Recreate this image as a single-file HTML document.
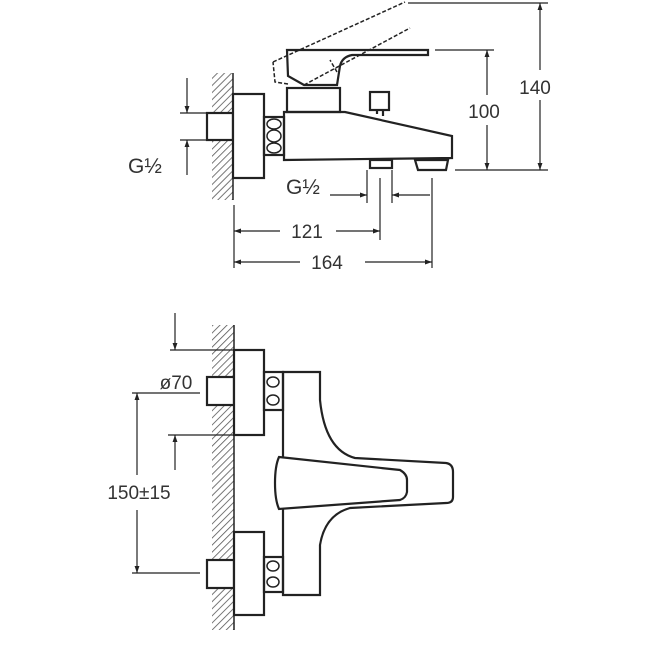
<!DOCTYPE html>
<html><head><style>
html,body{margin:0;padding:0;background:#fff;}
svg{display:block;}
text{font-family:"Liberation Sans",sans-serif;fill:#333;}
</style></head><body>
<svg width="650" height="650" viewBox="0 0 650 650" xmlns="http://www.w3.org/2000/svg">
<defs>
<pattern id="h" width="5" height="5" patternUnits="userSpaceOnUse" patternTransform="rotate(45)">
<line x1="0" y1="0" x2="0" y2="5" stroke="#555" stroke-width="1.6"/>
</pattern>
<marker id="a" viewBox="0 0 10 10" refX="10" refY="5" markerWidth="9" markerHeight="7" orient="auto-start-reverse" markerUnits="userSpaceOnUse">
<path d="M0,1.5 L10,5 L0,8.5 Z" fill="#222"/>
</marker>
</defs>
<g fill="none" stroke="#222" stroke-width="2.2">
<!-- TOP VIEW -->
<rect x="212" y="73" width="21" height="127" fill="url(#h)" stroke="none"/>
<line x1="233" y1="73" x2="233" y2="200" stroke-width="1.5"/>
<rect x="207" y="113" width="26" height="27" fill="#fff"/>
<rect x="233" y="94" width="31" height="84" fill="#fff"/>
<rect x="264" y="117" width="20" height="38"/>
<ellipse cx="274" cy="124" rx="7" ry="5" stroke-width="1.5"/>
<ellipse cx="274" cy="136" rx="7" ry="6" stroke-width="1.5"/>
<ellipse cx="274" cy="148" rx="7" ry="5" stroke-width="1.5"/>
<path d="M284,112 L345,112 L452,136 L452,158 L284,160 Z"/>
<rect x="287" y="88" width="53" height="24"/>
<rect x="370" y="92" width="19" height="18"/>
<line x1="377" y1="110" x2="377" y2="114"/><line x1="383" y1="110" x2="383" y2="116"/>
<rect x="370" y="160" width="22" height="8"/>
<path d="M415,160 L448,160 L446,170 L418,170 Z"/>
<path d="M287,50 L428,50 L428,55 L352,55 Q342,57 340,66 L337,85 L304,85 L288,76 Z"/>
<path d="M273,62 L405,2 M288,84 L275,82 L273,62 M304,85 L410,28 M337,72 L330,60" stroke-dasharray="4,2" stroke-width="1.5"/>
<!-- top dims -->
<g stroke-width="1.2">
<line x1="408" y1="3" x2="548" y2="3"/>
<line x1="435" y1="50" x2="494" y2="50"/>
<line x1="455" y1="170" x2="548" y2="170"/>
<line x1="540" y1="70" x2="540" y2="3" marker-end="url(#a)"/>
<line x1="540" y1="100" x2="540" y2="170" marker-end="url(#a)"/>
<line x1="487" y1="95" x2="487" y2="50" marker-end="url(#a)"/>
<line x1="487" y1="125" x2="487" y2="170" marker-end="url(#a)"/>
<line x1="180" y1="113" x2="207" y2="113"/>
<line x1="180" y1="140" x2="207" y2="140"/>
<line x1="187" y1="78" x2="187" y2="113" marker-end="url(#a)"/>
<line x1="187" y1="175" x2="187" y2="140" marker-end="url(#a)"/>
<line x1="234" y1="205" x2="234" y2="268"/>
<line x1="367" y1="170" x2="367" y2="203"/>
<line x1="380" y1="178" x2="380" y2="240"/>
<line x1="392" y1="170" x2="392" y2="203"/>
<line x1="432" y1="178" x2="432" y2="268"/>
<line x1="330" y1="195" x2="367" y2="195" marker-end="url(#a)"/>
<line x1="430" y1="195" x2="392" y2="195" marker-end="url(#a)"/>
<line x1="280" y1="231" x2="234" y2="231" marker-end="url(#a)"/>
<line x1="336" y1="231" x2="380" y2="231" marker-end="url(#a)"/>
<line x1="300" y1="262" x2="234" y2="262" marker-end="url(#a)"/>
<line x1="365" y1="262" x2="432" y2="262" marker-end="url(#a)"/>
</g>
<!-- BOTTOM VIEW -->
<rect x="212" y="325" width="22" height="305" fill="url(#h)" stroke="none"/>
<line x1="234" y1="325" x2="234" y2="630" stroke-width="1.5"/>
<rect x="207" y="377" width="27" height="28" fill="#fff"/>
<rect x="207" y="560" width="27" height="28" fill="#fff"/>
<rect x="234" y="350" width="30" height="85" fill="#fff"/>
<rect x="234" y="532" width="30" height="83" fill="#fff"/>
<rect x="264" y="372" width="19" height="38"/>
<ellipse cx="273" cy="382" rx="6" ry="5" stroke-width="1.5"/><ellipse cx="273" cy="400" rx="6" ry="5" stroke-width="1.5"/>
<rect x="264" y="557" width="19" height="35"/>
<ellipse cx="273" cy="566" rx="6" ry="5" stroke-width="1.5"/><ellipse cx="273" cy="582" rx="6" ry="5" stroke-width="1.5"/>
<path d="M283,372 L320,372 L320,400 Q325,450 355,458 L446,463 Q453,464 453,472 L453,497 Q453,503 446,503 L350,508 Q325,515 320,545 L320,595 L283,595 Z"/>
<path d="M279,457 L400,470 Q407,474 407,480 L407,492 Q406,498 400,500 L279,509 Q275,500 275,483 Q275,466 279,457 Z" fill="#fff"/>
<g stroke-width="1.2">
<line x1="170" y1="350" x2="234" y2="350"/>
<line x1="168" y1="435" x2="234" y2="435"/>
<line x1="175" y1="313" x2="175" y2="350" marker-end="url(#a)"/>
<line x1="175" y1="470" x2="175" y2="435" marker-end="url(#a)"/>
<line x1="132" y1="393" x2="200" y2="393"/>
<line x1="132" y1="573" x2="200" y2="573"/>
<line x1="137" y1="475" x2="137" y2="393" marker-end="url(#a)"/>
<line x1="137" y1="510" x2="137" y2="573" marker-end="url(#a)"/>
</g>
</g>
<rect x="88" y="480" width="102" height="24" fill="#fff"/>
<text x="535" y="94" font-size="19" text-anchor="middle">140</text>
<text x="484" y="118" font-size="19" text-anchor="middle">100</text>
<text x="128" y="173" font-size="21">G½</text>
<text x="286" y="194" font-size="21">G½</text>
<text x="307" y="238" font-size="19" text-anchor="middle">121</text>
<text x="327" y="269" font-size="19" text-anchor="middle">164</text>
<text x="176" y="389" font-size="19" text-anchor="middle">ø70</text>
<text x="139" y="499" font-size="19" text-anchor="middle">150±15</text>
</svg>
</body></html>
